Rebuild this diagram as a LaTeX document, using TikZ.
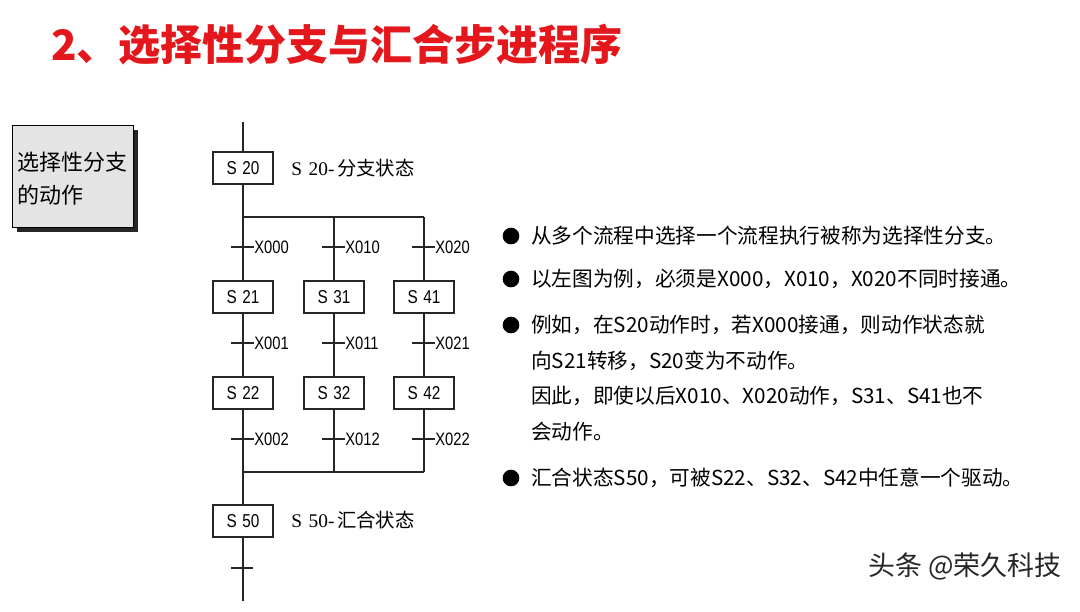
\documentclass[tikz,border=0pt]{standalone}
\usepackage{fontspec}
\setmainfont{Liberation Serif}
\newfontfamily\cjk{Noto Sans CJK SC}
\newfontfamily\narrowsf[FakeStretch=0.82]{Liberation Sans}
\usetikzlibrary{shadows}
\definecolor{titlered}{HTML}{E3171C}
\definecolor{boxgray}{HTML}{E4E4E4}
\begin{document}
\begin{tikzpicture}[x=0.75pt,y=-0.75pt,
  ln/.style={line width=1.1pt, draw=black!85},
  stbox/.style={draw=black!85, line width=1.1pt, fill=white, minimum width=45pt, minimum height=24pt, inner sep=0pt, font=\narrowsf\fontsize{14}{14}\selectfont},
  xlab/.style={anchor=west, inner sep=0pt, font=\narrowsf\fontsize{13.5}{13.5}\selectfont},
  body/.style={anchor=west, inner sep=0pt, font=\cjk\fontsize{15.5}{15.5}\selectfont},
  bullet/.style={circle, fill=black, minimum size=12.5pt, inner sep=0pt},
  statelab/.style={anchor=west, inner sep=0pt, font=\fontsize{14.5}{14.5}\selectfont}]
\useasboundingbox (0,0) rectangle (1080,611);
\fill[white] (0,0) rectangle (1080,611);

% title
\node[anchor=west, inner sep=0pt, text=titlered, font=\cjk\bfseries\fontsize{31.5}{31.5}\selectfont] (title) at (51,45) {2、选择性分支与汇合步进程序};

% left box
\node[draw=black, fill=boxgray, line width=1pt, anchor=north west, minimum width=90.75pt, minimum height=76.5pt, inner sep=0pt,
  drop shadow={shadow xshift=3pt, shadow yshift=-3pt, fill=black!85, opacity=1}] (actbox) at (12,125) {};
\node[anchor=west, inner sep=0pt, font=\cjk\fontsize{16.5}{16.5}\selectfont] (act1) at (17,162) {选择性分支};
\node[anchor=west, inner sep=0pt, font=\cjk\fontsize{16.5}{16.5}\selectfont] (act2) at (17,195) {的动作};

% states
\node[stbox] (s20) at (243,168) {S\hspace{4pt}20};
\node[stbox] (s21) at (243,297) {S\hspace{4pt}21};
\node[stbox] (s31) at (334,297) {S\hspace{4pt}31};
\node[stbox] (s41) at (424,297) {S\hspace{4pt}41};
\node[stbox] (s22) at (243,393) {S\hspace{4pt}22};
\node[stbox] (s32) at (334,393) {S\hspace{4pt}32};
\node[stbox] (s42) at (424,393) {S\hspace{4pt}42};
\node[stbox] (s50) at (243,521) {S\hspace{4pt}50};

\node[statelab] (l20) at (291,168) {S\hspace{5pt}20-\hspace{2pt}{\cjk 分支状态}};
\node[statelab] (l50) at (291,520) {S\hspace{5pt}50-\hspace{2pt}{\cjk 汇合状态}};

% coordinates
\coordinate (top) at (243,122);
\coordinate (br) at (243,217);
\coordinate (brM) at (334,217);
\coordinate (brR) at (424,217);
\coordinate (mg) at (243,472);
\coordinate (mgM) at (334,472);
\coordinate (mgR) at (424,472);
\coordinate (bot) at (243,601);

% connectors
\draw[ln] (top) -- (s20.north);
\draw[ln] (s20.south) -- (br);
\draw[ln] (br) -- (brR);
\draw[ln] (br) -- (s21.north);
\draw[ln] (brM) -- (s31.north);
\draw[ln] (brR) -- (s41.north);
\draw[ln] (s21.south) -- (s22.north);
\draw[ln] (s31.south) -- (s32.north);
\draw[ln] (s41.south) -- (s42.north);
\draw[ln] (s22.south) -- (mg);
\draw[ln] (s32.south) -- (mgM);
\draw[ln] (s42.south) -- (mgR);
\draw[ln] (mg) -- (mgR);
\draw[ln] (mg) -- (s50.north);
\draw[ln] (s50.south) -- (bot);

% transitions
\foreach \x/\y/\t in {243/247/X000, 334/247/X010, 424/247/X020,
                      243/343/X001, 334/343/X011, 424/343/X021,
                      243/439/X002, 334/439/X012, 424/439/X022}{
  \draw[ln] (\x-12,\y) -- (\x+11,\y);
  \node[xlab] at (\x+11,\y) {\t};
}
\draw[ln] (231,568) -- (253,568);

% bullets and text
\node[bullet] (b1) at (511,236) {};
\node[bullet] (b2) at (511,279) {};
\node[bullet] (b3) at (511,325) {};
\node[bullet] (b4) at (511,478) {};
\node[body] (t1) at (531,236) {从多个流程中选择一个流程执行被称为选择性分支。};
\node[body] (t2) at (531,279) {以左图为例，必须是X000，X010，X020不同时接通。};
\node[body] (t3) at (531,325) {例如，在S20动作时，若X000接通，则动作状态就};
\node[body] (t4) at (531,361) {向S21转移，S20变为不动作。};
\node[body] (t5) at (531,396) {因此，即使以后X010、X020动作，S31、S41也不};
\node[body] (t6) at (531,432) {会动作。};
\node[body] (t7) at (531,478) {汇合状态S50，可被S22、S32、S42中任意一个驱动。};

% watermark
\node[anchor=west, inner sep=0pt, text=black!85, font=\cjk\fontsize{20.2}{20.2}\selectfont] (wm) at (868,566) {头条 @荣久科技};
\end{tikzpicture}
\end{document}
